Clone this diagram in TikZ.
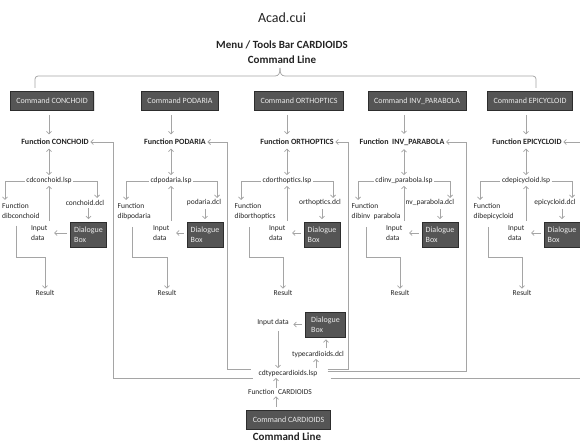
\documentclass[tikz,border=0pt]{standalone}
\usepackage{fontspec}
\setmainfont{Carlito}
\usetikzlibrary{arrows.meta,shadows,calc}
\definecolor{txt}{RGB}{35,35,35}
\definecolor{arrc}{RGB}{165,165,165}
\definecolor{boxf}{RGB}{85,85,85}
\definecolor{boxd}{RGB}{45,45,45}
\definecolor{boxt}{RGB}{235,235,235}
\begin{document}
\begin{tikzpicture}[x=1pt,y=-1pt,
  lab/.style={text=txt,font=\fontsize{7.5}{10}\selectfont,inner sep=1.5pt},
  fnlab/.style={text=txt,font=\fontsize{8}{10}\selectfont\bfseries,inner sep=1.5pt},
  cmdbox/.style={fill=boxf,draw=boxd,line width=0.8pt,text=boxt,font=\fontsize{8}{10}\selectfont,minimum height=19pt,inner xsep=6pt,drop shadow={shadow xshift=0.8pt,shadow yshift=-0.8pt,fill=black!25}},
  dbox/.style={fill=boxf,draw=boxd,line width=0.8pt,text=boxt,font=\fontsize{8}{10}\selectfont,minimum width=36pt,minimum height=25pt,align=left,inner xsep=2.5pt,drop shadow={shadow xshift=0.6pt,shadow yshift=-0.6pt,fill=black!25}},
  arr/.style={draw=arrc,line width=0.75pt,-{Straight Barb[length=2.5pt,width=5pt]}},
  dblarr/.style={draw=arrc,line width=0.75pt,{Straight Barb[length=2.5pt,width=5pt]}-{Straight Barb[length=2.5pt,width=5pt]}},
  ln/.style={draw=arrc,line width=0.75pt},
]
\useasboundingbox (0,0) rectangle (580,443);
% top titles
\node[text=txt,font=\fontsize{14}{16}\selectfont] (title) at (282,18) {Acad.cui};
\node[text=txt,font=\fontsize{11}{15}\selectfont\bfseries,align=center] (menu) at (282,52) {Menu / Tools Bar CARDIOIDS\\Command Line};
% brace
\coordinate (bl) at (35,88);
\coordinate (br) at (536,88);
\coordinate (btip) at (280,68);
\draw[ln,rounded corners=3pt] (bl) -- (35,76) -- (275,76);
\draw[ln] (275,76) .. controls (279,76) and (280,73) .. (btip);
\draw[ln] (btip) .. controls (280,73) and (281,76) .. (285,76);
\draw[ln,rounded corners=3pt] (285,76) -- (536,76) -- (br);
% columns
\foreach \id/\b/\cx/\ct/\fx/\ft/\ls/\dib/\dcl/\dl/\bx/\dcx/\dbx/\rb/\fb in {
 a/49/52/{Command CONCHOID}/55/{Function CONCHOID}/cdconchoid.lsp/dibconchoid/conchoid.dcl/0.5/5/85/88.5/97/113,
 b/171/180/{Command PODARIA}/175/{Function PODARIA}/cdpodaria.lsp/dibpodaria/podaria.dcl/116/126/204/205/217/227,
 c/287/299/{Command ORTHOPTICS}/297/{Function ORTHOPTICS}/cdorthoptics.lsp/diborthoptics/orthoptics.dcl/233/241/320/322/333/348,
 d/404/417/{Command INV\_PARABOLA}/402/{Function\ \ INV\_PARABOLA}/cdinv\_parabola.lsp/{dibinv\ \ parabola}/inv\_parabola.dcl/350/358/429/440/450/466,
 e/526/530/{Command EPICYCLOID}/527/{Function EPICYCLOID}/cdepicycloid.lsp/dibepicycloid/epicycloid.dcl/472/480/555/562/572/590}
{
 \node[cmdbox] (cmd\id) at (\cx,101) {\ct};
 \node[fnlab] (fn\id) at (\fx,142) {\ft};
 \node[lab] (lsp\id) at (\b,181) {\ls};
 \node[lab,align=left,anchor=north west] (dib\id) at (\dl,202) {Function\\\dib};
 \node[lab] (dcl\id) at (\dcx,203) {\dcl};
 \node[dbox] (db\id) at (\dbx,235) {Dialogue\\Box};
 \node[lab,align=left,anchor=north east] (in\id) at (\b,224) {Input\\data};
 \node[lab] (res\id) at (\b-4,293) {Result};
 \coordinate (lb\id) at (\bx,200);
 \coordinate (rb\id) at (\rb,198);
 \coordinate (rk\id) at (\dl+16,257);
 \coordinate (fb\id) at (\fb,142);
 \draw[arr,shorten <=4pt,shorten >=3pt] (cmd\id.south -| lsp\id) -- (fn\id.north -| lsp\id);
 \draw[dblarr,shorten <=2pt,shorten >=1pt] (fn\id.south -| lsp\id) -- (lsp\id.north);
 \draw[arr] (lsp\id.west) -| (lb\id);
 \draw[arr] (lsp\id.east) -| (rb\id);
 \draw[arr,shorten <=1pt,shorten >=3pt] (dcl\id.south -| db\id) -- (db\id.north);
 \draw[arr,shorten <=3pt,shorten >=5pt] ([yshift=2pt]db\id.west) -- ([yshift=2pt]db\id.west -| in\id.east);
 \draw[arr] ([yshift=3pt]in\id.north east) -- (lsp\id.south -| in\id.north east);
 \draw[arr,shorten <=5pt] (dib\id.south -| rk\id) -- (rk\id) -| (res\id.north);
}
% bottom part
\node[lab] (bin) at (273,323) {Input data};
\node[dbox,minimum width=40pt] (bdb) at (325.5,324.5) {Dialogue\\Box};
\node[lab] (bdcl) at (318,354) {typecardioids.dcl};
\node[lab] (ctl) at (288,373) {cdtypecardioids.lsp};
\node[lab] (bfn) at (280,392) {Function\ \ CARDIOIDS};
\node[cmdbox] (bcmd) at (288.5,419.5) {Command CARDIOIDS};
\node[text=txt,font=\fontsize{11}{13}\selectfont\bfseries,inner sep=0.5pt] (bcl) at (287,436.5) {Command Line};
\draw[arr,shorten <=3pt,shorten >=3pt] (bdb.west) -- (bdb.west -| bin.east);
\draw[arr,shorten <=3pt] ([xshift=5pt]bin.south) -- ([xshift=5pt]bin.south |- ctl.north);
\draw[arr,shorten <=1pt,shorten >=2pt] ([xshift=8pt]bdcl.north) -- ([xshift=8pt]bdcl.north |- bdb.south);
\draw[arr] ([xshift=28pt]ctl.north) -- ([xshift=28pt]ctl.north |- bdcl.south);
\draw[arr] ([xshift=-4pt]bfn.north) -- ([xshift=-4pt]bfn.north |- ctl.south);
\draw[arr,shorten <=3pt] ([xshift=-12.5pt]bcmd.north) -- ([xshift=-12.5pt]bcmd.north |- bfn.south);
% feedback lines from cdtypecardioids.lsp to each function
\draw[arr] ([shift={(-4.5pt,-5pt)}]ctl.west) -| (fba) -- (fna.east);
\draw[arr] ([shift={(-6.5pt,4pt)}]ctl.west) -| (fbb) -- (fnb.east);
\draw[arr] ([shift={(8.5pt,4pt)}]ctl.east) -| (fbc) -- (fnc.east);
\draw[arr] ([shift={(8.5pt,1.5pt)}]ctl.east) -| (fbd) -- (fnd.east);
\draw[arr] ([shift={(11.5pt,-5pt)}]ctl.east) -| (fbe) -- (fne.east);
\end{tikzpicture}
\end{document}
